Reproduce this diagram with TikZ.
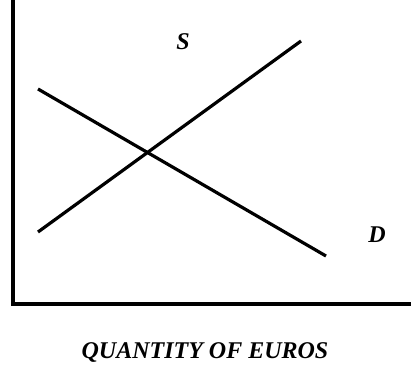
\documentclass[tikz,border=0pt]{standalone}
\usepackage{fontspec}
\setmainfont{Liberation Serif}

\begin{document}
\begin{tikzpicture}[x=1pt,y=-1pt,line join=miter,
  axisline/.style={black,line width=3.6pt},
  curveline/.style={black,line width=3.2pt},
  curvelabel/.style={font=\fontsize{24}{28}\selectfont\bfseries\itshape,inner sep=0pt}]
\useasboundingbox (0,0) rectangle (411,367);
% axes
\coordinate (top) at (13,-2);
\coordinate (origin) at (13,304);
\coordinate (right) at (413,304);
\draw[axisline] (top) -- (origin) -- (right);
% supply and demand
\coordinate (s0) at (38,232);
\coordinate (s1) at (301,41);
\coordinate (d0) at (38,89);
\coordinate (d1) at (326,256);
\draw[curveline] (s0) -- (s1);
\draw[curveline] (d0) -- (d1);
\node[curvelabel] (slabel) at (183,42) {S};
\node[curvelabel] (dlabel) at (377,235) {D};
\node[curvelabel] (xlabel) at (205,352) {QUANTITY OF EUROS};
\end{tikzpicture}
\end{document}
